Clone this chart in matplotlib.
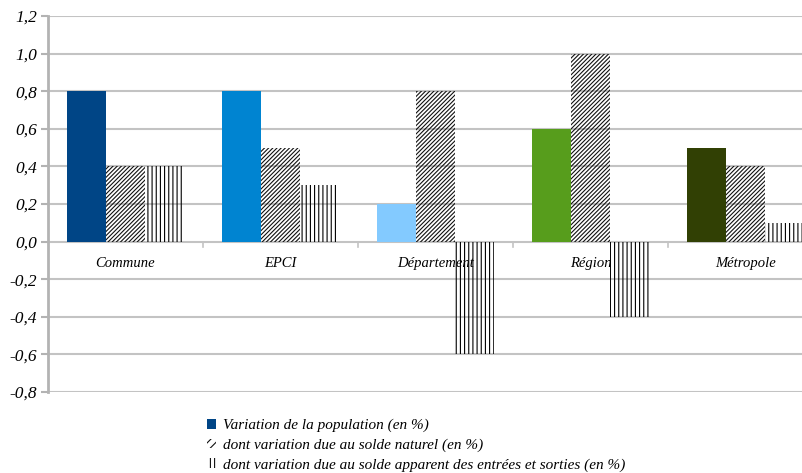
import matplotlib
matplotlib.use("Agg")
import matplotlib.pyplot as plt
import numpy as np
from matplotlib.patches import Patch

# Data
categories = ["Commune", "EPCI", "Département", "Région", "Métropole"]
variation = [0.8, 0.8, 0.2, 0.6, 0.5]
solde_naturel = [0.4, 0.5, 0.8, 1.0, 0.4]
solde_migratoire = [0.4, 0.3, -0.6, -0.4, 0.1]
bar_colors = ["#004586", "#0084d1", "#83caff", "#579d1c", "#314004"]
legend_labels = [
    "Variation de la population (en %)",
    "dont variation due au solde naturel (en %)",
    "dont variation due au solde apparent des entrées et sorties (en %)",
]
yticks = [-0.8, -0.6, -0.4, -0.2, 0.0, 0.2, 0.4, 0.6, 0.8, 1.0, 1.2]

W, H = 803, 473
fig = plt.figure(figsize=(W / 100, H / 100), dpi=100)
# plot area: left edge 48px, top 16px, bottom 392px; categories 155px wide
ax = fig.add_axes([48 / W, (H - 392) / H, (W - 48) / W, (392 - 16) / H])

font = dict(family="Liberation Serif", style="italic", size=10.5)
grid_c = "#c3c3c3"
plt.rcParams["hatch.linewidth"] = 0.8

x = np.arange(len(categories))
bw = 0.25
ax.bar(x - bw, variation, bw, color=bar_colors, zorder=3, linewidth=0)
ax.bar(x, solde_naturel, bw, facecolor="none", edgecolor="#111111",
       hatch="////////", linewidth=0, zorder=3)
ax.bar(x + bw, solde_migratoire, bw, facecolor="none", edgecolor="#000000",
       hatch="||||", linewidth=0, zorder=3)

ax.set_xlim(-0.5, -0.5 + (W - 48) / 155)
ax.set_ylim(-0.8, 1.2)
ax.set_yticks(yticks)
ax.set_yticklabels([f"{v:.1f}".replace(".", ",") for v in yticks],
                   family="Liberation Serif", style="italic", size=12.5)
ax.yaxis.grid(True, color=grid_c, linewidth=1.5, zorder=0)
ax.set_axisbelow(True)

# category boundary ticks hanging from the zero line
ax.set_xticks([])
for b in x[:-1] + 0.5:
    ax.plot([b, b], [0, -0.028], color=grid_c, linewidth=1.2, zorder=2,
            clip_on=False)
for xi, name in zip(x, categories):
    ax.text(xi, -0.115, name, ha="center", va="center", zorder=5, **font)

for s in ["top", "right", "bottom"]:
    ax.spines[s].set_visible(False)
ax.spines["left"].set_color("#b3b3b3")
ax.spines["left"].set_linewidth(2)
ax.tick_params(axis="y", length=5, width=1.5, color="#b3b3b3", pad=3)

handles = [
    Patch(facecolor=bar_colors[0], linewidth=0),
    Patch(facecolor="none", edgecolor="#111111", hatch="////", linewidth=0),
    Patch(facecolor="none", edgecolor="#111111", hatch="||||", linewidth=0),
]
fig.legend(handles, legend_labels, loc="upper left",
           bbox_to_anchor=(207 / W, 1 - 419 / H), frameon=False,
           prop=dict(family="Liberation Serif", style="italic", size=11),
           handlelength=0.6, handleheight=0.6, handletextpad=0.45,
           labelspacing=0.4, borderaxespad=0, borderpad=0)

fig.savefig("out.png", dpi=100)
